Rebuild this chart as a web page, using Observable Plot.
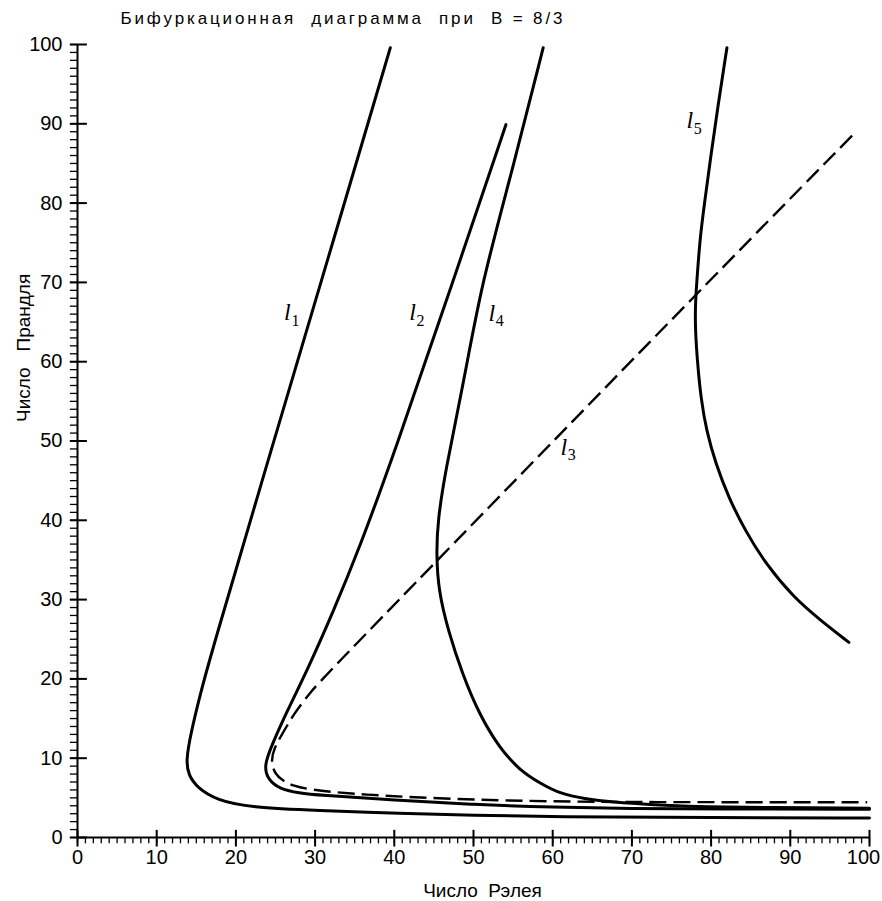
<!DOCTYPE html>
<html>
<head>
<meta charset="utf-8">
<script src="https://cdn.jsdelivr.net/npm/d3@7"></script>
<script src="https://cdn.jsdelivr.net/npm/@observablehq/plot@0.6"></script>
<style>
  html, body { margin: 0; padding: 0; background: #fff; }
</style>
</head>
<body>
<div id="chart"></div>
<script>
// ---- data ----
const title = "Бифуркационная\u00a0\u00a0диаграмма\u00a0\u00a0при\u00a0\u00a0B\u00a0=\u00a08/3";
const xLabel = "Число\u00a0\u00a0Рэлея";
const yLabel = "Число\u00a0\u00a0\u00a0Прандля";
const xTicks = [0, 10, 20, 30, 40, 50, 60, 70, 80, 90, 100];
const yTicks = [0, 10, 20, 30, 40, 50, 60, 70, 80, 90, 100];
const minorTicks = d3.range(0, 101, 1);

// curve l1
const l1X = [39.5, 30.8, 23.6, 17.0, 15.5, 14.3, 13.7, 14.0, 15.1, 17.6, 21.8, 30.3, 40.8, 50, 60, 80, 100];
const l1Y = [99.6, 70.2, 46.0, 23.6, 18.1, 13.1, 9.7, 7.9, 6.3, 4.7, 3.8, 3.4, 3.05, 2.8, 2.6, 2.5, 2.45];
// curve l2
const l2X = [54.1, 47.1, 40.0, 35.6, 32.3, 29.2, 26.4, 24.6, 23.5, 24.1, 25.6, 28.0, 30.3, 40, 50, 60, 70, 80, 100];
const l2Y = [89.9, 69.2, 48.5, 36.5, 28.5, 21.5, 15.8, 11.8, 9.0, 7.2, 6.1, 5.6, 5.35, 4.7, 4.15, 3.8, 3.65, 3.6, 3.55];
// curve l3 (dashed)
const l3X = [97.8, 78.2, 44.6, 30.9, 29.4, 27.3, 25.6, 24.9, 24.4, 24.9, 26.0, 27.3, 29.0, 32.4, 36.6, 40.8, 50, 60, 70, 99.7];
const l3Y = [88.5, 68.6, 34.1, 20.0, 18.3, 15.6, 12.6, 11.4, 9.7, 8.0, 7.1, 6.5, 6.1, 5.7, 5.4, 5.15, 4.75, 4.55, 4.45, 4.45];
// curve l4
const l4X = [58.8, 55.0, 51.0, 48.8, 46.4, 45.5, 45.3, 45.6, 46.8, 48.6, 50.7, 53.2, 55.9, 58.5, 61.0, 63.9, 67.7, 72.3, 80, 100];
const l4Y = [99.6, 84.5, 69.8, 57.6, 46.0, 40.0, 35.8, 31.0, 26.1, 20.6, 15.6, 11.4, 8.4, 6.8, 5.5, 4.9, 4.45, 4.15, 3.8, 3.7];
// curve l5
const l5X = [82.0, 80.9, 79.9, 79.1, 78.6, 78.3, 78.0, 78.0, 78.3, 78.7, 79.4, 80.6, 82.2, 84.3, 86.9, 90.4, 93.8, 97.4];
const l5Y = [99.6, 92.5, 85.5, 79.5, 75.5, 71.5, 67.5, 63.9, 59.7, 55.5, 51.3, 47.1, 42.9, 38.7, 34.5, 30.3, 27.4, 24.6];

// curve labels
const labelSub = ["1", "2", "3", "4", "5"];
const labelX = [26.5, 42.3, 61.4, 52.3, 77.3];
const labelY = [66.2, 66.2, 49.2, 66.1, 90.4];

const toRows = (xs, ys) => xs.map((x, i) => ({x, y: ys[i]}));
const solidCurves = [toRows(l1X, l1Y), toRows(l2X, l2Y), toRows(l4X, l4Y), toRows(l5X, l5Y)];
const dashed = toRows(l3X, l3Y);
const labels = labelSub.map((s, i) => ({s, x: labelX[i], y: labelY[i]}));

const serif = "'Liberation Serif', 'DejaVu Serif', serif";

const plot = Plot.plot({
  width: 882,
  height: 901,
  marginLeft: 77,
  marginRight: 13,
  marginTop: 44,
  marginBottom: 64,
  x: {domain: [0, 100]},
  y: {domain: [0, 100]},
  style: {fontFamily: "'Liberation Sans', Arial, sans-serif", background: "#fff", color: "#000"},
  marks: [
    // axes lines
    Plot.ruleY([0], {stroke: "#000", strokeWidth: 2}),
    Plot.ruleX([0], {stroke: "#000", strokeWidth: 2}),
    // minor ticks
    Plot.ruleX(minorTicks, {x: d => d, y1: 0, y2: -0.8, stroke: "#000", strokeWidth: 1.3}),
    Plot.ruleY(minorTicks, {y: d => d, x1: 0, x2: -0.9, stroke: "#000", strokeWidth: 1.3}),
    // major ticks (crossing the axis)
    Plot.ruleX(xTicks, {x: d => d, y1: 0.9, y2: -1.2, stroke: "#000", strokeWidth: 2}),
    Plot.ruleY(yTicks, {y: d => d, x1: -0.9, x2: 1.25, stroke: "#000", strokeWidth: 2}),
    // tick labels
    Plot.axisX({ticks: xTicks.slice(0, -1), tickSize: 0, tickPadding: 12, fontSize: 20, label: null, tickFormat: d => String(d)}),
    Plot.axisX({ticks: xTicks.slice(-1), tickSize: 0, tickPadding: 12, fontSize: 20, label: null, dx: -6, tickFormat: d => String(d)}),
    Plot.axisY({ticks: yTicks, tickSize: 0, tickPadding: 15, fontSize: 20, label: null, tickFormat: d => String(d)}),
    // curves
    ...solidCurves.map(c => Plot.line(c, {x: "x", y: "y", curve: "basis", stroke: "#000", strokeWidth: 3})),
    Plot.line(dashed, {x: "x", y: "y", curve: "basis", stroke: "#000", strokeWidth: 2.4, strokeDasharray: "17,7", strokeLinecap: "butt"}),
    // curve labels
    Plot.text(labels, {x: "x", y: "y", text: () => "l", fontSize: 24, fontStyle: "italic", fontFamily: serif, fill: "#000"}),
    Plot.text(labels, {x: "x", y: "y", text: "s", dx: 8, dy: 8, fontSize: 16, fontFamily: serif, fill: "#000"}),
    // title & axis labels
    Plot.text([title], {frameAnchor: "top-left", dx: 43, dy: -26, textAnchor: "start", lineAnchor: "middle", fontSize: 17, fill: "#000", className: "ttl"}),
    Plot.text([xLabel], {frameAnchor: "bottom", dx: 9, dy: 53, lineAnchor: "middle", fontSize: 19, fill: "#000"}),
    Plot.text([yLabel], {frameAnchor: "left", dx: -54, dy: -19, rotate: -90, lineAnchor: "middle", fontSize: 19, fill: "#000"})
  ]
});

d3.select(plot).selectAll("g.ttl text").attr("textLength", 442).attr("lengthAdjust", "spacing");
document.getElementById("chart").appendChild(plot);
</script>
</body>
</html>
